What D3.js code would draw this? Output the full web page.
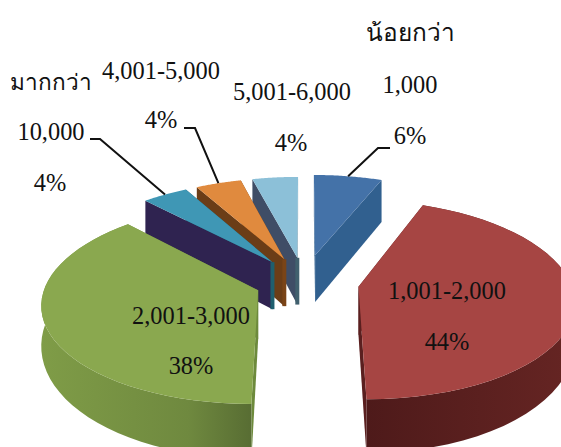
<!DOCTYPE html>
<html>
<head>
<meta charset="utf-8">
<script src="https://cdn.jsdelivr.net/npm/d3@7"></script>
<style>
  html, body { margin: 0; padding: 0; background: #fff; overflow: hidden; }
  text { font-family: "Liberation Serif", "Noto Sans", serif; font-size: 24.4px; fill: #111; }
</style>
</head>
<body>
<div id="chart"></div>
<script>
const categories = ["น้อยกว่า 1,000", "1,001-2,000", "2,001-3,000", "มากกว่า 10,000", "4,001-5,000", "5,001-6,000"];
const shares = [6, 44, 38, 4, 4, 4];
const topColors = ["#4472a8", "#a64543", "#8aa84f", "#3f97b5", "#e08a3e", "#8cc0d8"];
const leftFace = ["#31608f", "#5a1f1f", "#6d8a3c", "#2f2350", "#6b3d17", "#3f4d66"];
const rightFace = ["#31608f", "#5a1f1f", "#6d8a3c", "#1f5f6e", "#7a4417", "#41606e"];
const explodeBy = [0.29, 0.26, 0.23, 0.26, 0.26, 0.26];

const width = 561, height = 447;
const cx = 304, cy = 282, radius = 212, tilt = 0.457, persp = 0.127, depth = 46;

const svg = d3.select("#chart").append("svg")
  .attr("width", width).attr("height", height)
  .style("display", "block");

const defs = svg.append("defs");
const greenRim = defs.append("linearGradient").attr("id", "greenRim");
greenRim.append("stop").attr("offset", "0%").attr("stop-color", "#7f9c47");
greenRim.append("stop").attr("offset", "70%").attr("stop-color", "#6f893f");
greenRim.append("stop").attr("offset", "100%").attr("stop-color", "#586d33");
const redRim = defs.append("linearGradient").attr("id", "redRim");
redRim.append("stop").attr("offset", "0%").attr("stop-color", "#4e1a1a");
redRim.append("stop").attr("offset", "100%").attr("stop-color", "#662523");

const pie = d3.pie().sort(null).value(d => d)(shares);

function project(X, Y, Z) {
  const p = 1 / (1 + persp * Y);
  return [cx + X * radius * p, cy - Y * radius * tilt * p + Z * depth * p];
}

function slicePoint(d, a, r, z) {
  const mid = (d.startAngle + d.endAngle) / 2;
  const e = explodeBy[d.index];
  const X = e * Math.sin(mid) + r * Math.sin(a);
  const Y = e * Math.cos(mid) + r * Math.cos(a);
  // the outer wall looks thinner at the sides than at the front
  return project(X, Y, z === "rim" ? 0.8 - 0.2 * Y : z);
}

const line = d3.line();

function arcAngles(d) {
  return d3.range(0, 41).map(i => d.startAngle + (d.endAngle - d.startAngle) * i / 40);
}

function topPath(d) {
  const pts = arcAngles(d).map(a => slicePoint(d, a, 1, 0));
  return line([slicePoint(d, 0, 0, 0), ...pts]) + "Z";
}

function rimPath(d) {
  const angles = arcAngles(d);
  const up = angles.map(a => slicePoint(d, a, 1, 0));
  const down = angles.slice().reverse().map(a => slicePoint(d, a, 1, "rim"));
  return line([...up, ...down]) + "Z";
}

function facePath(d, a) {
  return line([
    slicePoint(d, a, 0, 0), slicePoint(d, a, 1, 0),
    slicePoint(d, a, 1, 1.05), slicePoint(d, a, 0, 1.05)
  ]) + "Z";
}

// back slices first, the two large ones last
const drawOrder = [0, 5, 4, 3, 1, 2];

drawOrder.forEach(i => {
  const d = pie[i];
  const g = svg.append("g");
  g.append("path").attr("d", facePath(d, d.endAngle)).attr("fill", rightFace[i]);
  g.append("path").attr("d", facePath(d, d.startAngle)).attr("fill", leftFace[i]);
  if (i === 1 || i === 2) {
    g.append("path").attr("d", rimPath(d))
      .attr("fill", i === 2 ? "url(#greenRim)" : "url(#redRim)");
  }
  if (i >= 3) {
    // thin strip of the other wall showing at the tip
    g.append("path")
      .attr("d", line([slicePoint(d, 0, 0, 0), slicePoint(d, 0, 0, 1.05)]))
      .attr("stroke", rightFace[i])
      .attr("stroke-width", 4);
  }
  g.append("path").attr("d", topPath(d)).attr("fill", topColors[i]);
});

// leader lines for the small slices
const leaders = [
  { slice: 0, elbow: [378, 148], end: [390, 148] },
  { slice: 3, elbow: [100, 139], end: [90, 139] },
  { slice: 4, elbow: [195, 128], end: [184, 128] }
];
svg.append("g").selectAll("path")
  .data(leaders)
  .join("path")
  .attr("d", l => {
    const d = pie[l.slice];
    const start = slicePoint(d, (d.startAngle + d.endAngle) / 2, 1, 0);
    return line([start, l.elbow, l.end]);
  })
  .attr("fill", "none")
  .attr("stroke", "#111")
  .attr("stroke-width", 2);

const labels = [
  { t: "น้อยกว่า", x: 410, y: 41 },
  { t: "1,000", x: 410, y: 93 },
  { t: shares[0] + "%", x: 410, y: 144 },
  { t: "1,001-2,000", x: 447, y: 299 },
  { t: shares[1] + "%", x: 447, y: 350 },
  { t: "2,001-3,000", x: 191, y: 324 },
  { t: shares[2] + "%", x: 191, y: 374 },
  { t: "มากกว่า", x: 51, y: 90, size: 22.6 },
  { t: "10,000", x: 51, y: 140 },
  { t: shares[3] + "%", x: 50, y: 191 },
  { t: "4,001-5,000", x: 161, y: 79 },
  { t: shares[4] + "%", x: 161, y: 128 },
  { t: "5,001-6,000", x: 292, y: 100 },
  { t: shares[5] + "%", x: 291, y: 151 }
];
svg.append("g").selectAll("text")
  .data(labels)
  .join("text")
  .attr("x", d => d.x)
  .attr("y", d => d.y)
  .attr("text-anchor", "middle")
  .style("font-size", d => d.size ? d.size + "px" : null)
  .text(d => d.t);
</script>
</body>
</html>
